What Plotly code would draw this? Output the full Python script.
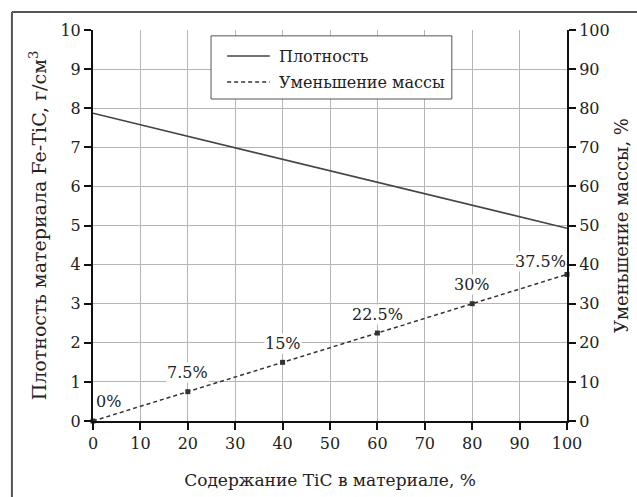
import plotly.graph_objects as go

tic_content = [0, 20, 40, 60, 80, 100]
density = [7.87, 7.28, 6.69, 6.11, 5.52, 4.93]
mass_reduction = [0, 7.5, 15, 22.5, 30, 37.5]
point_labels = ["0%", "7.5%", "15%", "22.5%", "30%", "37.5%"]
series_names = ["Плотность", "Уменьшение массы"]

FONT = "DejaVu Serif"
INK = "#222222"
LINE1 = dict(color="#444444", width=1.6)
LINE2 = dict(color="#333333", width=1.5, dash="4px,3px")

fig = go.Figure()
fig.add_trace(go.Scatter(
    x=tic_content, y=density, mode="lines", name=series_names[0],
    line=LINE1, yaxis="y", showlegend=False))
fig.add_trace(go.Scatter(
    x=tic_content, y=mass_reduction, mode="lines+markers", name=series_names[1],
    line=LINE2, marker=dict(symbol="square", size=5, color="#333333"),
    yaxis="y2", cliponaxis=False, showlegend=False))

for i, (xv, yv, t) in enumerate(zip(tic_content, mass_reduction, point_labels)):
    if i == 0:
        xa, xs, ys = "left", 2, 20
    elif i == len(tic_content) - 1:
        xa, xs, ys = "right", 0, 13
    else:
        xa, xs, ys = "center", 0, 19
    fig.add_annotation(x=xv, y=yv, xref="x", yref="y2", text=t, showarrow=False,
                       xanchor=xa, yanchor="middle", xshift=xs, yshift=ys,
                       bgcolor="white", borderpad=0,
                       font=dict(family=FONT, size=16, color=INK))

# legend box (drawn to match the reference's long line samples)
fig.add_shape(type="rect", xref="paper", yref="paper", x0=0.249, x1=0.757, y0=0.8235, y1=0.985,
              line=dict(color="#555555", width=1), fillcolor="white", layer="above")
for yy, ln, name in [(0.9335, LINE1, series_names[0]), (0.867, LINE2, series_names[1])]:
    fig.add_shape(type="line", xref="paper", yref="paper", x0=0.283, x1=0.373, y0=yy, y1=yy,
                  line=ln, layer="above")
    fig.add_annotation(x=0.388, y=yy, xref="paper", yref="paper", text=name, showarrow=False,
                       xanchor="left", yanchor="middle",
                       font=dict(family=FONT, size=16, color=INK))

# outer frame (left and top edges)
fig.add_shape(type="line", xref="paper", yref="paper", x0=-0.171, x1=-0.171, y0=1.046, y1=-0.25,
              line=dict(color="#555555", width=2))
fig.add_shape(type="line", xref="paper", yref="paper", x0=-0.171, x1=1.2, y0=1.046, y1=1.046,
              line=dict(color="#555555", width=2))

axis_common = dict(showgrid=True, gridcolor="#b5b5b5", gridwidth=1, zeroline=False,
                   showline=True, linecolor="#111111", linewidth=2, automargin=False,
                   ticks="outside", ticklen=7, tickwidth=1.5, tickcolor="#111111",
                   tickfont=dict(family=FONT, size=16, color=INK))

fig.update_layout(
    width=637, height=497,
    margin=dict(l=93, r=70, t=30, b=76),
    paper_bgcolor="white", plot_bgcolor="white",
    showlegend=False,
    font=dict(family=FONT, color=INK),
    xaxis=dict(range=[0, 100], dtick=10,
               title=dict(text="Содержание TiC в материале, %", standoff=22,
                          font=dict(family=FONT, size=17, color=INK)),
               **axis_common),
    yaxis=dict(range=[0, 10], dtick=1,
               title=dict(text="Плотность материала Fe-TiC, г/см<sup>3</sup>", standoff=9,
                          font=dict(family=FONT, size=19, color=INK)),
               **axis_common),
    yaxis2=dict(range=[0, 100], dtick=10, overlaying="y", side="right",
                title=dict(text="Уменьшение массы, %", standoff=7,
                           font=dict(family=FONT, size=18, color=INK)),
                **{**axis_common, "showgrid": False}),
)

fig.write_html("out.html")
